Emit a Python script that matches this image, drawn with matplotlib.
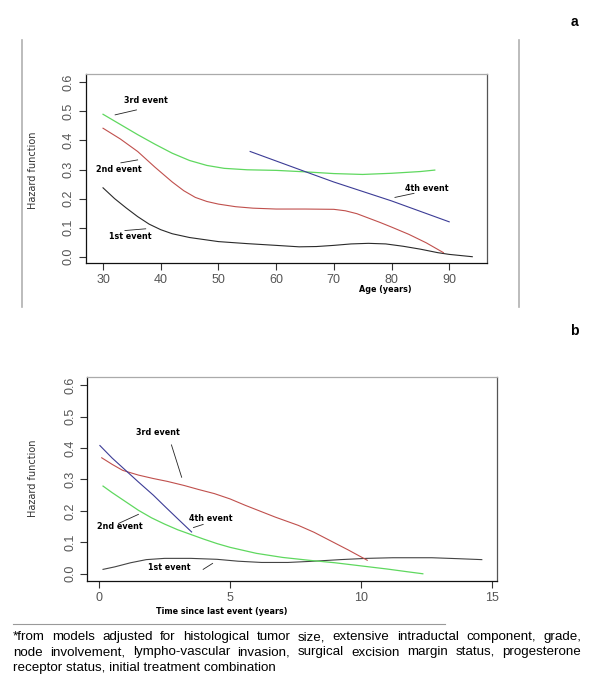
import matplotlib
matplotlib.use("Agg")
import matplotlib.pyplot as plt
from matplotlib.lines import Line2D

W, H = 600, 692

# panel a : hazard by age
age_1st = [30, 32, 34, 36, 38, 40, 42, 45, 50, 55, 60, 64, 67, 70, 73, 76, 79, 82, 85, 88, 90, 94]
haz_a_1st = [0.237, 0.200, 0.168, 0.138, 0.112, 0.093, 0.079, 0.066, 0.052, 0.045, 0.039, 0.034,
             0.035, 0.039, 0.044, 0.046, 0.044, 0.036, 0.026, 0.014, 0.008, 0.000]
age_2nd = [30, 33, 36, 39, 42, 44, 46, 48, 50, 53, 56, 60, 65, 70, 72, 74, 76, 78, 80, 83, 86, 89]
haz_a_2nd = [0.442, 0.405, 0.362, 0.308, 0.257, 0.227, 0.204, 0.190, 0.181, 0.172, 0.167, 0.164,
             0.164, 0.163, 0.158, 0.148, 0.133, 0.118, 0.102, 0.077, 0.048, 0.014]
age_3rd = [30, 33, 36, 39, 42, 45, 48, 51, 55, 60, 65, 70, 75, 80, 85, 87.5]
haz_a_3rd = [0.490, 0.455, 0.420, 0.387, 0.356, 0.331, 0.314, 0.304, 0.299, 0.297, 0.292, 0.286,
             0.283, 0.287, 0.293, 0.298]
age_4th = [55.5, 65, 70, 80, 90]
haz_a_4th = [0.362, 0.293, 0.257, 0.192, 0.120]

# panel b : hazard by time since last event
t_1st = [0.15, 0.6, 1.2, 1.8, 2.5, 3.5, 4.5, 5.3, 6.2, 7.2, 8.2, 9.2, 10.2, 11.2, 12.7, 13.7, 14.6]
haz_b_1st = [0.014, 0.022, 0.035, 0.045, 0.049, 0.049, 0.046, 0.040, 0.036, 0.036, 0.040, 0.045,
             0.049, 0.051, 0.051, 0.048, 0.045]
t_2nd = [0.15, 0.5, 1, 1.5, 2, 2.5, 3, 3.5, 4, 4.5, 5, 6, 7, 8, 9, 10, 11, 11.8, 12.35]
haz_b_2nd = [0.279, 0.258, 0.230, 0.202, 0.178, 0.158, 0.140, 0.125, 0.110, 0.096, 0.084, 0.065,
             0.052, 0.043, 0.035, 0.025, 0.015, 0.006, 0.0]
t_3rd = [0.1, 0.5, 0.9, 1.5, 2.07, 2.6, 3.24, 3.8, 4.4, 5, 5.57, 6.15, 6.73, 7.6, 8.2, 8.78, 9.5, 10.23]
haz_b_3rd = [0.369, 0.348, 0.329, 0.314, 0.303, 0.294, 0.281, 0.268, 0.255, 0.238, 0.218, 0.199,
             0.180, 0.154, 0.132, 0.107, 0.076, 0.043]
t_4th = [0.03, 0.5, 1, 1.5, 2.07, 2.5, 3, 3.53]
haz_b_4th = [0.408, 0.368, 0.330, 0.292, 0.250, 0.215, 0.175, 0.133]

yticks = [0.0, 0.1, 0.2, 0.3, 0.4, 0.5, 0.6]
xticks_a = [30, 40, 50, 60, 70, 80, 90]
xticks_b = [0, 5, 10, 15]

footnote = ["*from models adjusted for histological tumor size, extensive intraductal component, grade,",
            "node involvement, lympho-vascular invasion, surgical excision margin status, progesterone",
            "receptor status, initial treatment combination"]

BLACK = "#2a2a2a"
RED = "#c0504d"
GREEN = "#5fd85f"
BLUE = "#3c3c96"
TICKGRAY = "#555555"


def box(left, top, right, bottom):
    # pixel box -> figure fraction rect
    return [left / W, 1 - bottom / H, (right - left) / W, (bottom - top) / H]


def style_axes(ax, xticks):
    ax.set_yticks(yticks)
    ax.set_yticklabels(["%.1f" % v for v in yticks], rotation=90, va="center",
                       family="Liberation Sans", fontsize=9, color=TICKGRAY)
    ax.set_xticks(xticks)
    ax.set_xticklabels([str(v) for v in xticks], family="Liberation Sans",
                       fontsize=9, color=TICKGRAY)
    ax.tick_params(axis="both", direction="out", length=5, width=0.8, color="#333333", pad=3)
    ax.spines["left"].set_color("#111111")
    ax.spines["bottom"].set_color("#111111")
    ax.spines["top"].set_color("#aaaaaa")
    ax.spines["right"].set_color("#555555")
    for s in ax.spines.values():
        s.set_linewidth(0.9)


def label(ax, txt, xy, lead):
    ax.text(xy[0], xy[1], txt, ha="center", va="center", fontsize=5.8,
            fontweight="bold", family="DejaVu Sans", color="black")
    ax.plot(lead[0], lead[1], color="#222222", lw=0.6)


fig = plt.figure(figsize=(W / 100, H / 100), dpi=100)

# panel a
ax = fig.add_axes(box(86, 74.3, 486.7, 262.7))
ax.plot(age_1st, haz_a_1st, color=BLACK, lw=0.8)
ax.plot(age_2nd, haz_a_2nd, color=RED, lw=0.8)
ax.plot(age_3rd, haz_a_3rd, color=GREEN, lw=0.9)
ax.plot(age_4th, haz_a_4th, color=BLUE, lw=0.8)
ax.set_xlim(27.05, 96.5)
ax.set_ylim(-0.0206, 0.6275)
style_axes(ax, xticks_a)
label(ax, "3rd event", (37.45, 0.537), ([32.1, 35.8], [0.488, 0.505]))
label(ax, "2nd event", (32.77, 0.300), ([33.1, 36.0], [0.323, 0.333]))
label(ax, "1st event", (34.68, 0.071), ([33.8, 37.4], [0.090, 0.096]))
label(ax, "4th event", (86.1, 0.235), ([80.6, 83.9], [0.204, 0.218]))

# panel b
bx = fig.add_axes(box(87.3, 376.7, 497, 581))
bx.plot(t_1st, haz_b_1st, color="#444444", lw=0.8)
bx.plot(t_2nd, haz_b_2nd, color=GREEN, lw=0.9)
bx.plot(t_3rd, haz_b_3rd, color=RED, lw=0.8)
bx.plot(t_4th, haz_b_4th, color=BLUE, lw=0.8)
bx.set_xlim(-0.45, 15.18)
bx.set_ylim(-0.023, 0.627)
style_axes(bx, xticks_b)
label(bx, "3rd event", (2.23, 0.450), ([2.76, 3.15], [0.410, 0.307]))
label(bx, "2nd event", (0.78, 0.150), ([0.74, 1.50], [0.160, 0.189]))
label(bx, "4th event", (4.26, 0.177), ([3.60, 3.97], [0.147, 0.157]))
label(bx, "1st event", (2.66, 0.019), ([3.97, 4.33], [0.014, 0.033]))

# axis titles
for yc in (170, 478):
    fig.text(32.5 / W, 1 - yc / H, "Hazard function", rotation=90, ha="center", va="center",
             family=["Liberation Sans Narrow", "DejaVu Sans"], fontsize=7, color="#333333")
fig.text(385 / W, 1 - 290 / H, "Age (years)", ha="center", va="center",
         fontsize=5.8, fontweight="bold", color="black")
fig.text(221.5 / W, 1 - 611.7 / H, "Time since last event (years)", ha="center", va="center",
         fontsize=5.8, fontweight="bold", color="black")

# panel letters
fig.text(574 / W, 1 - 22 / H, "a", ha="center", va="center", fontsize=10,
         fontweight="bold", family="Liberation Sans")
fig.text(574 / W, 1 - 330.7 / H, "b", ha="center", va="center", fontsize=10,
         fontweight="bold", family="Liberation Sans")

# gray frame lines around panel a
for xp in (21.7, 518.7):
    fig.add_artist(Line2D([xp / W, xp / W], [1 - 40 / H, 1 - 306.7 / H],
                          color="#b0b0b0", lw=1.2, transform=fig.transFigure))

# footnote separator
fig.add_artist(Line2D([13 / W, 445 / W], [1 - 624 / H, 1 - 624 / H],
                      color="#999999", lw=0.8, transform=fig.transFigure))

# footnote, first two lines justified
renderer = fig.canvas.get_renderer()
x0, x1 = 13, 581
fs = 9.6
for i, line in enumerate(footnote):
    yb = 640 + 15.5 * i  # baseline
    if i == len(footnote) - 1:
        fig.text(x0 / W, 1 - yb / H, line, ha="left", va="baseline", fontsize=fs,
                 family="Liberation Sans", color="black")
        continue
    words = line.split(" ")
    objs = [fig.text(0, 1 - yb / H, w, ha="left", va="baseline", fontsize=fs,
                     family="Liberation Sans", color="black") for w in words]
    widths = [o.get_window_extent(renderer).width for o in objs]
    gap = (x1 - x0 - sum(widths)) / (len(words) - 1)
    xp = x0
    for o, wd in zip(objs, widths):
        o.set_x(xp / W)
        xp += wd + gap

fig.savefig("out.png", dpi=100)
